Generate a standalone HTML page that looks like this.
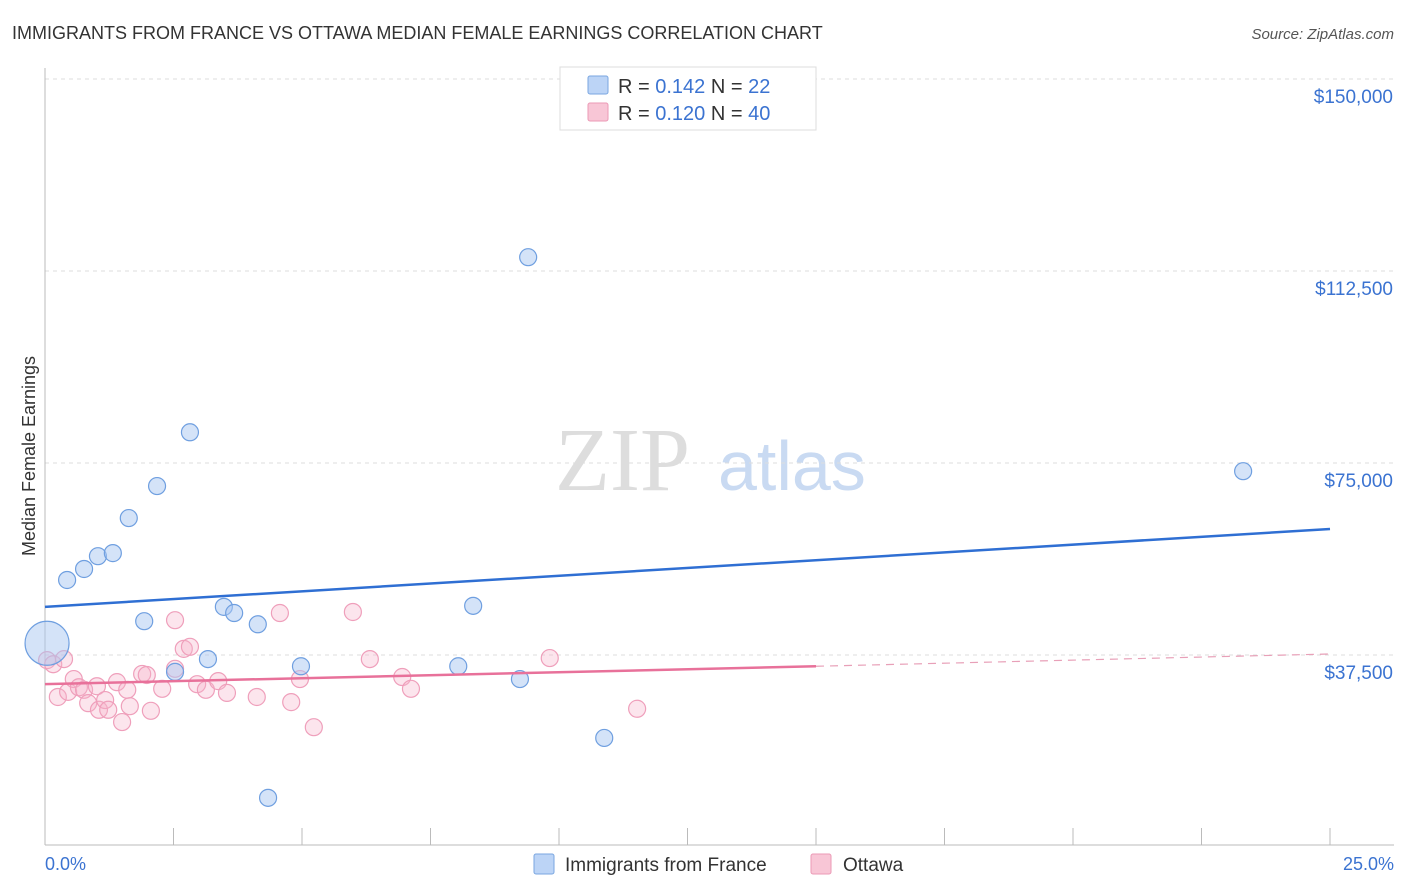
<!DOCTYPE html>
<html><head><meta charset="utf-8"><style>
body{margin:0;background:#fff;font-family:"Liberation Sans",sans-serif;}
</style></head><body>
<svg id="chart" width="1406" height="892" style="position:absolute;left:0;top:0">
<text x="12" y="39" font-size="18" fill="#333">IMMIGRANTS FROM FRANCE VS OTTAWA MEDIAN FEMALE EARNINGS CORRELATION CHART</text>
<text x="1394" y="39" font-size="15" fill="#555" font-style="italic" text-anchor="end">Source: ZipAtlas.com</text>
<text x="35" y="456" font-size="18" fill="#333" text-anchor="middle" transform="rotate(-90 35 456)">Median Female Earnings</text>
<text x="555" y="490" font-size="90" fill="#ddd" font-family="Liberation Serif">ZIP</text>
<text x="718" y="490" font-size="70" fill="#c9daf2">atlas</text>
<g id="grid"></g><g id="pts"></g><g id="lines"></g>
<g>
<rect x="560" y="67" width="256" height="63" fill="#fff" stroke="#ddd"/>
<rect x="588" y="76" width="20" height="18" fill="#bcd4f6" stroke="#7aa6e0" rx="2"/>
<text x="618" y="93" font-size="20" fill="#333">R = <tspan fill="#3b73d1">0.142</tspan>   N = <tspan fill="#3b73d1"> 22</tspan></text>
<rect x="588" y="103" width="20" height="18" fill="#f8c6d6" stroke="#eb99b5" rx="2"/>
<text x="618" y="120" font-size="20" fill="#333">R = <tspan fill="#3b73d1">0.120</tspan>   N = <tspan fill="#3b73d1">40</tspan></text>
</g>
<g>
<rect x="534" y="854" width="20" height="20" fill="#bcd4f6" stroke="#7aa6e0" rx="2"/>
<text x="565" y="871" font-size="19" fill="#333">Immigrants from France</text>
<rect x="811" y="854" width="20" height="20" fill="#f8c6d6" stroke="#eb99b5" rx="2"/>
<text x="843" y="871" font-size="19" fill="#333">Ottawa</text>
</g>
<text x="45" y="870" font-size="18" fill="#3b73d1">0.0%</text>
<text x="1394" y="870" font-size="18" fill="#3b73d1" text-anchor="end">25.0%</text>
</svg>
<script>
const yTicks=[150000,112500,75000,37500];
const yTickLabels=["$150,000","$112,500","$75,000","$37,500"];
const franceX=[0.04,0.43,0.76,1.03,1.32,1.63,2.18,2.82,1.93,2.53,3.17,3.48,3.68,4.14,4.34,4.98,8.04,8.33,9.24,9.40,10.88,23.31];
const franceY=[39800,52150,54300,56800,57400,64250,70500,81000,44100,34200,36700,46900,45700,43500,9600,35300,35300,47100,32800,115200,21300,73400];
const ottawaX=[0.04,0.16,0.37,0.25,0.45,0.56,0.66,0.76,0.84,1.01,1.05,1.17,1.23,1.40,1.50,1.60,1.65,1.89,1.98,2.06,2.28,2.53,2.53,2.70,2.82,2.96,3.13,3.37,3.54,4.12,4.57,4.79,4.96,5.23,5.99,6.32,6.95,7.12,9.82,11.52];
const ottawaY=[36500,35700,36700,29300,30300,32800,31200,30700,28100,31400,26800,28700,26800,32200,24400,30700,27500,33800,33600,26600,30900,44300,34800,38700,39100,31800,30700,32400,30100,29300,45700,28300,32800,23400,45900,36700,33200,30900,36900,27000];
const franceTrend=[46900,62100];
const ottawaTrend=[31800,35300,37700];
const NS='http://www.w3.org/2000/svg';
const X=v=>45+v/25*1285, Y=v=>847-v/37500*192;
function mk(t,a,p){const e=document.createElementNS(NS,t);for(const k in a)e.setAttribute(k,a[k]);document.getElementById(p).appendChild(e);return e;}
yTicks.forEach((t,i)=>{
 const l=mk('line',{x1:45,x2:1394,y1:Y(t),y2:Y(t),stroke:'#ddd','stroke-dasharray':'4 4'},'grid');
 
 
 const tx=mk('text',{x:1393,y:Y(t)+24,'font-size':19,fill:'#3b73d1','text-anchor':'end'},'grid');
 tx.textContent=yTickLabels[i];
 
 
});
const ax=mk('line',{x1:45,x2:45,y1:68,y2:845,stroke:'#bbb'},'grid');


const bx=mk('line',{x1:45,x2:1394,y1:845,y2:845,stroke:'#bbb'},'grid');


for(let i=0;i<=10;i++){const t=mk('line',{x1:X(i*2.5),x2:X(i*2.5),y1:828,y2:845,stroke:'#bbb'},'grid');
 
 }
ottawaX.forEach((x,i)=>{const c=mk('circle',{cx:X(x),cy:Y(ottawaY[i]),r:8.5,fill:'rgba(246,180,203,0.35)',stroke:'#ef9fbb','stroke-width':1.2},'pts');
 
 });
franceX.forEach((x,i)=>{const c=mk('circle',{cx:X(x),cy:Y(franceY[i]),r:i==0?22:8.5,fill:'rgba(170,200,242,0.5)',stroke:'#6f9fe0','stroke-width':1.2},'pts');
 
 });
const fl=mk('line',{x1:X(0),y1:Y(franceTrend[0]),x2:X(25),y2:Y(franceTrend[1]),stroke:'#2f6fd3','stroke-width':2.5},'lines');


const ol=mk('line',{x1:X(0),y1:Y(ottawaTrend[0]),x2:X(15),y2:Y(ottawaTrend[1]),stroke:'#e8719a','stroke-width':2.5},'lines');


const od=mk('line',{x1:X(15),y1:Y(ottawaTrend[1]),x2:X(25),y2:Y(ottawaTrend[2]),stroke:'#e8a0b8','stroke-width':1.2,'stroke-dasharray':'8 6'},'lines');


</script>
</body></html>
